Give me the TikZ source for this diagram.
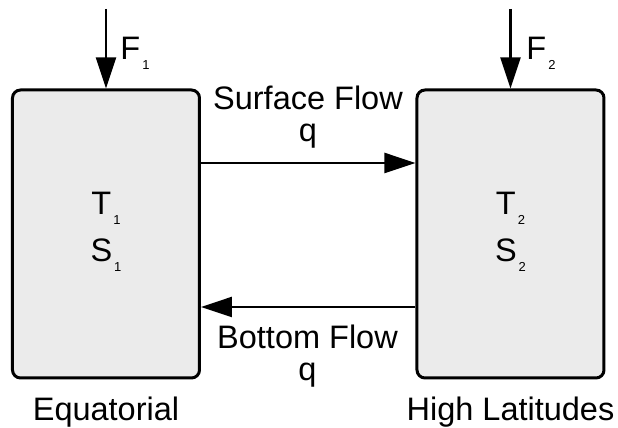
\documentclass[tikz,border=0pt]{standalone}
\usepackage{fontspec}
\setmainfont{Liberation Sans}
\usetikzlibrary{positioning,arrows.meta}
\newcommand{\lowidx}[1]{\kern1pt\raisebox{-5pt}{\fontsize{6.5}{7}\selectfont #1}}

\begin{document}
\begin{tikzpicture}
    [x=0.5pt, y=0.5pt,
     font=\fontsize{16.25}{16}\selectfont,
     basin/.style={draw,line width=1.5pt,rounded corners=4pt,fill=black!8,
                   minimum width=93.5pt,minimum height=144pt,inner sep=0pt},
     flux/.style={-{Triangle[length=15.5pt,width=10pt]},line width=1.2pt},
     lbl/.style={inner sep=0pt,anchor=base,align=center}]
    \useasboundingbox (0,0) rectangle (618,428);

    % Boxes
    \node (eq) at (106,194) [basin] {};
    \node (hl) at (510.5,194) [basin] {};

    \node (t1) at (106,213) [lbl] {T\lowidx{1}};
    \node (s1) at (106,166) [lbl] {S\lowidx{1}};
    \node (t2) at (510.5,213) [lbl] {T\lowidx{2}};
    \node (s2) at (510.5,166) [lbl] {S\lowidx{2}};

    \node (eqname) at (106,7) [lbl] {Equatorial};
    \node (hlname) at (510.5,7) [lbl] {High Latitudes};

    % Forcing
    \coordinate (f1top) at (106,419);
    \coordinate (f2top) at (510.5,419);
    \draw [flux] (f1top) -- (eq.north);
    \draw [flux] (f2top) -- (hl.north);
    \node (f1) at (120,368) [lbl,anchor=base west] {F\lowidx{1}};
    \node (f2) at (526,368) [lbl,anchor=base west] {F\lowidx{2}};

    % Flows (base anchor sits on the q line)
    \draw [flux] ([yshift=35.5pt]eq.east) -- ([yshift=35.5pt]hl.west);
    \draw [flux] ([yshift=-36.5pt]hl.west) -- ([yshift=-36.5pt]eq.east);
    \node (sflow) at (308,286) [lbl] {Surface Flow\\q};
    \node (bflow) at (307.5,47) [lbl] {Bottom Flow\\q};
\end{tikzpicture}
\end{document}
